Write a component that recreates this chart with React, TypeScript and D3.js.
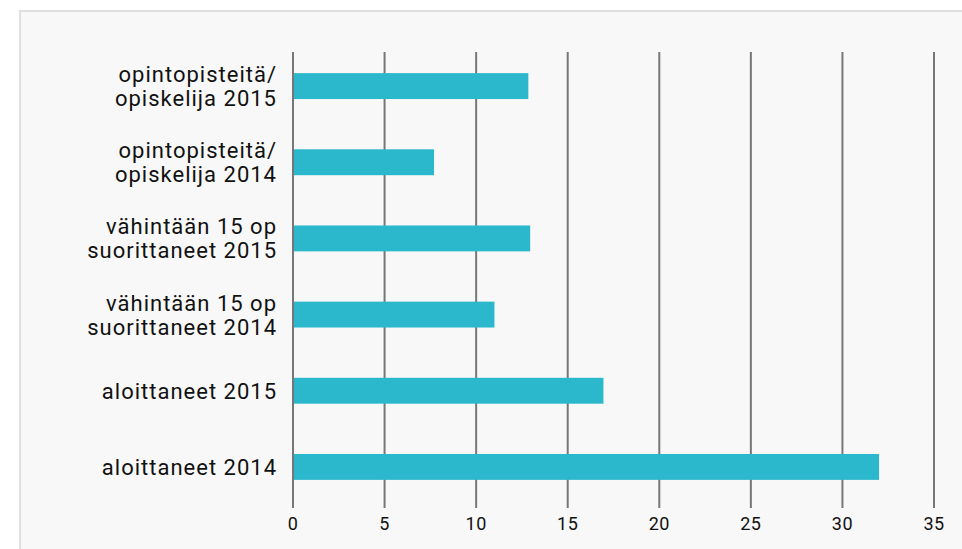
import React, { useEffect, useRef } from 'react'
import * as d3 from 'd3'

const categories: string[][] = [
  ['opintopisteitä/', 'opiskelija 2015'],
  ['opintopisteitä/', 'opiskelija 2014'],
  ['vähintään 15 op', 'suorittaneet 2015'],
  ['vähintään 15 op', 'suorittaneet 2014'],
  ['aloittaneet 2015'],
  ['aloittaneet 2014'],
]
const values: number[] = [12.85, 7.7, 12.95, 11, 16.95, 32]
const xTicks: number[] = [0, 5, 10, 15, 20, 25, 30, 35]

const App = () => {
  const svgRef = useRef<SVGSVGElement>(null)

  useEffect(() => {
    const width = 962
    const height = 549
    const left = 293
    const right = 934
    const gridTop = 52
    const gridBottom = 508

    const svg = d3.select(svgRef.current)
    svg.selectAll('*').remove()
    svg.attr('width', width).attr('height', height)

    svg.append('rect')
      .attr('x', 20)
      .attr('y', 11)
      .attr('width', width)
      .attr('height', height)
      .attr('fill', '#f8f8f8')
      .attr('stroke', '#e0e0e0')
      .attr('stroke-width', 2)

    const xScale = d3.scaleLinear().domain([0, 35]).range([left, right])
    const yScale = d3
      .scaleBand<number>()
      .domain(d3.range(categories.length))
      .range([48, 505])
      .paddingInner(0.66)
      .paddingOuter(0.33)

    const fontFamily = 'Roboto, sans-serif'

    // vertical grid lines
    svg.append('g')
      .selectAll('line')
      .data(xTicks)
      .enter()
      .append('line')
      .attr('x1', (d) => xScale(d))
      .attr('x2', (d) => xScale(d))
      .attr('y1', gridTop)
      .attr('y2', gridBottom)
      .attr('stroke', '#777777')
      .attr('stroke-width', 2)

    svg.append('g')
      .selectAll('rect')
      .data(values)
      .enter()
      .append('rect')
      .attr('x', xScale(0) + 1)
      .attr('y', (d, i) => yScale(i) as number)
      .attr('width', (d) => xScale(d) - xScale(0) - 1)
      .attr('height', yScale.bandwidth())
      .attr('fill', '#2bb8cc')

    // tick labels
    svg.append('g')
      .selectAll('text')
      .data(xTicks)
      .enter()
      .append('text')
      .attr('x', (d) => xScale(d))
      .attr('y', 530)
      .attr('text-anchor', 'middle')
      .style('font-family', fontFamily)
      .style('font-size', '18px')
      .style('letter-spacing', '0.5px')
      .style('fill', '#111')
      .text((d) => d)

    // category labels
    const lineH = 24
    const labels = svg.append('g')
    categories.forEach((lines, i) => {
      const cy = (yScale(i) as number) + yScale.bandwidth() / 2
      const t = labels
        .append('text')
        .attr('text-anchor', 'end')
        .style('font-family', fontFamily)
        .style('font-size', '22px')
        .style('letter-spacing', '1px')
        .style('fill', '#111')
      lines.forEach((line, j) => {
        const offset = (j - (lines.length - 1) / 2) * lineH
        t.append('tspan')
          .attr('x', 277)
          .attr('y', cy + offset + 8)
          .text(line)
      })
    })
  }, [])

  return (
    <div style={{ position: 'absolute', left: 0, top: 0, width: 962, height: 549, background: '#fff' }}>
      <svg ref={svgRef} style={{ display: 'block' }}></svg>
    </div>
  )
}

export default App
